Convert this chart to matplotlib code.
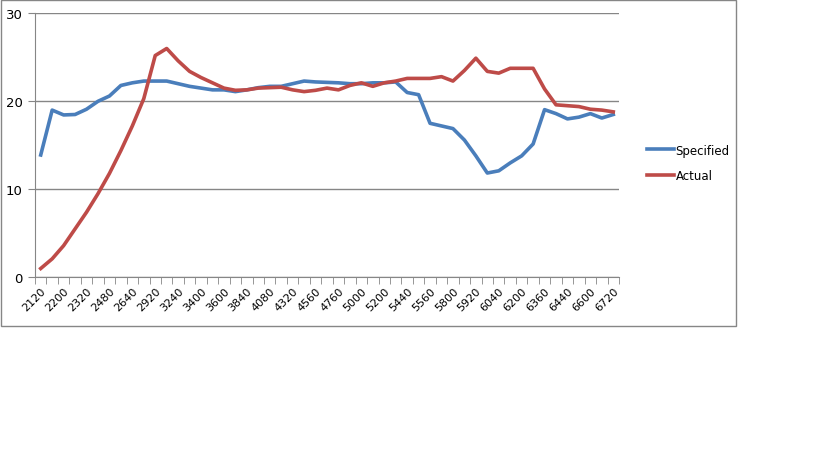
import numpy as np
import matplotlib
matplotlib.use("Agg")
from matplotlib import pyplot as plt
from matplotlib.patches import Rectangle

# rpm categories (every second one is labelled on the axis)
rpm = [2120, 2160, 2200, 2240, 2320, 2400, 2480, 2560, 2640, 2800,
       2920, 3080, 3240, 3320, 3400, 3480, 3600, 3720, 3840, 3960,
       4080, 4200, 4320, 4440, 4560, 4640, 4760, 4880, 5000, 5080,
       5200, 5320, 5440, 5480, 5560, 5680, 5800, 5840, 5920, 5960,
       6040, 6120, 6200, 6280, 6360, 6400, 6440, 6520, 6600, 6680,
       6720]

specified = [13.9, 19.0, 18.45, 18.5, 19.1, 20.0, 20.6, 21.8, 22.1, 22.3,
             22.3, 22.3, 22.0, 21.7, 21.5, 21.3, 21.3, 21.1, 21.3, 21.55,
             21.7, 21.7, 22.0, 22.3, 22.2, 22.15, 22.1, 22.0, 22.0, 22.1,
             22.1, 22.2, 21.0, 20.75, 17.5, 17.2, 16.9, 15.6, 13.8, 11.85,
             12.1, 13.0, 13.8, 15.15, 19.05, 18.6, 18.0, 18.2, 18.6, 18.1,
             18.5]

actual = [1.0, 2.1, 3.6, 5.5, 7.4, 9.5, 11.8, 14.4, 17.2, 20.3,
          25.2, 26.0, 24.6, 23.4, 22.7, 22.1, 21.5, 21.25, 21.3, 21.5,
          21.55, 21.6, 21.3, 21.1, 21.25, 21.5, 21.3, 21.8, 22.1, 21.7,
          22.1, 22.3, 22.6, 22.6, 22.6, 22.8, 22.3, 23.5, 24.9, 23.4,
          23.2, 23.75, 23.75, 23.75, 21.4, 19.6, 19.5, 19.4, 19.1, 19.0,
          18.8]

W, H = 819, 460
fig = plt.figure(figsize=(W / 100, H / 100), dpi=100)
plt.rcParams['font.family'] = ['DejaVu Sans']

grey = '#868686'

# chart area border
fig.patches.append(Rectangle((0.5 / W, 1 - 327 / H), 735.5 / W, 326.5 / H,
                             transform=fig.transFigure, fill=False,
                             edgecolor=grey, lw=1))

ax = fig.add_axes([35 / W, 1 - 278.3 / H, 584 / W, 264 / H])
x = np.arange(len(rpm))
ax.plot(x, specified, color='#4A7EBB', lw=2.6, label='Specified', solid_joinstyle='round')
ax.plot(x, actual, color='#BE4B48', lw=2.6, label='Actual', solid_joinstyle='round')

ax.set_xlim(-0.5, len(rpm) - 0.5)
ax.set_ylim(0, 30)
ax.set_yticks([0, 10, 20, 30])
ax.yaxis.grid(True, color=grey, lw=1)
ax.set_axisbelow(True)

for s in ['top', 'right']:
    ax.spines[s].set_visible(False)
for s in ['left', 'bottom']:
    ax.spines[s].set_color(grey)

# labels on every second category, tick marks on category boundaries
ax.set_xticks(x[::2], [str(v) for v in rpm[::2]], rotation=45,
              ha='right', va='top', rotation_mode='anchor')
ax.set_xticks(np.arange(-0.5, len(rpm)), minor=True)
ax.tick_params(axis='x', which='major', length=0, pad=6, labelsize=8)
ax.tick_params(axis='x', which='minor', length=5, color=grey, direction='out')
ax.tick_params(axis='y', length=5, color=grey, labelsize=9.5, pad=4)

ax.legend(loc='center left', bbox_to_anchor=(636 / W, 1 - 164 / H),
          bbox_transform=fig.transFigure, frameon=False, fontsize=8.5,
          handlelength=2.3, handletextpad=0.15, labelspacing=1.1)

fig.savefig('out.png', dpi=100)
